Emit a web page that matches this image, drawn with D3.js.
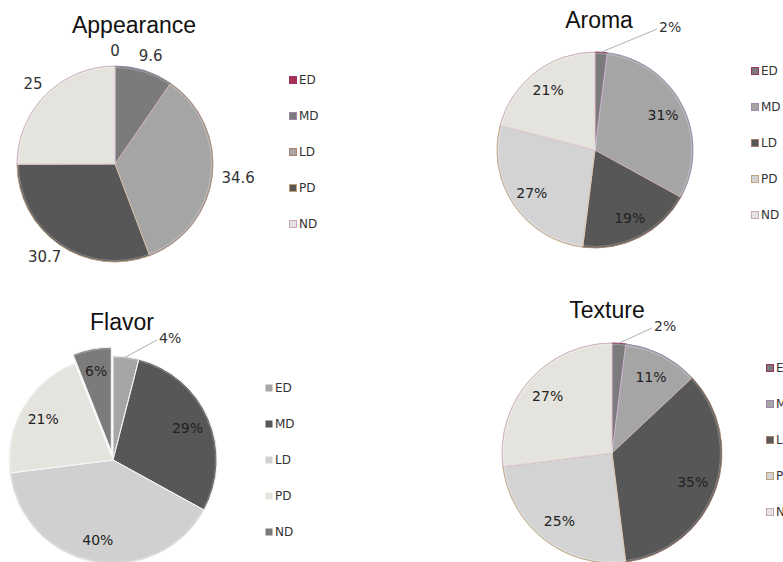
<!DOCTYPE html>
<html>
<head>
<meta charset="utf-8">
<script src="https://cdn.jsdelivr.net/npm/d3@7"></script>
<style>
  body { margin: 0; background: #fff; overflow: hidden; }
  svg { display: block; }
</style>
</head>
<body>
<svg id="chart" width="783" height="562"></svg>
<script>
// Sensory attribute categories (shared by all four pies)
const categories = ["ED", "MD", "LD", "PD", "ND"];

// Series values per attribute
const appearanceValues = [0, 9.6, 34.6, 30.7, 25];
const aromaValues = [2, 31, 19, 27, 21];
const flavorValues = [4, 29, 40, 21, 6];
const textureValues = [2, 11, 35, 25, 27];

const chartTitles = ["Appearance", "Aroma", "Flavor", "Texture"];

// Slice fills per chart, in category order
const appearanceColors = ["#a8304f", "#7b7b7b", "#a5a5a5", "#575757", "#e5e3dd"];
const aromaColors = ["#7b7b7b", "#a5a5a5", "#575757", "#d3d3d3", "#e5e3dd"];
const flavorColors = ["#a5a5a5", "#575757", "#d0d0d0", "#e5e3dd", "#7b7b7b"];
const textureColors = ["#7b7b7b", "#a5a5a5", "#575757", "#d3d3d3", "#e5e3dd"];

// Slice outline colours
const outlineColors = ["#993366", "#9d87ab", "#a98070", "#bfa27a", "#c7a9b8"];

const svg = d3.select("#chart");

const charts = [
  { title: chartTitles[0], values: appearanceValues, colors: appearanceColors, outlines: outlineColors,
    cx: 115, cy: 164, r: 98, tx: 134, ty: 33, lx: 289, ly: 80, labels: "outside" },
  { title: chartTitles[1], values: aromaValues, colors: aromaColors, outlines: outlineColors,
    cx: 595, cy: 150, r: 98, tx: 599, ty: 28, lx: 751, ly: 71, labels: "percent", callout: [62, -121] },
  { title: chartTitles[2], values: flavorValues, colors: flavorColors, outlines: null,
    cx: 113, cy: 460, r: 104, tx: 122, ty: 330, lx: 265, ly: 388, labels: "percent", callout: [44, -120],
    explode: 4, explodeBy: 9 },
  { title: chartTitles[3], values: textureValues, colors: textureColors, outlines: outlineColors,
    cx: 612, cy: 453, r: 110, tx: 607, ty: 318, lx: 766, ly: 368, labels: "percent", callout: [40, -125] }
];

const pie = d3.pie().sort(null).value(d => d);
const legendStep = 36;

charts.forEach(c => {
  const total = d3.sum(c.values);
  const arcs = pie(c.values);
  const arc = d3.arc().innerRadius(0).outerRadius(c.r);
  const g = svg.append("g").attr("transform", `translate(${c.cx},${c.cy})`);

  const mid = d => (d.startAngle + d.endAngle) / 2;
  const offset = (d, i) => {
    if (c.explode === i) {
      const a = mid(d);
      return `translate(${Math.sin(a) * c.explodeBy},${-Math.cos(a) * c.explodeBy})`;
    }
    return null;
  };

  // Slices
  g.selectAll("path.slice")
    .data(arcs)
    .join("path")
    .attr("class", "slice")
    .attr("d", arc)
    .attr("transform", offset)
    .attr("fill", (d, i) => c.colors[i])
    .attr("stroke", (d, i) => c.outlines ? c.outlines[i] : "#f2f2f2")
    .attr("stroke-width", c.outlines ? 0.9 : 1)
    .attr("stroke-linejoin", "round");

  // Soft bevel highlight along slice edges
  g.selectAll("path.bevel")
    .data(arcs.filter(d => d.value > 0))
    .join("path")
    .attr("class", "bevel")
    .attr("d", d3.arc().innerRadius(0).outerRadius(c.r - 1.5))
    .attr("transform", (d) => offset(d, arcs.indexOf(d)))
    .attr("fill", "none")
    .attr("stroke", "#ffffff")
    .attr("stroke-opacity", 0.25)
    .attr("stroke-width", 1);

  // Data labels
  arcs.forEach((d, i) => {
    const a = mid(d);
    const s = Math.sin(a), co = -Math.cos(a);
    if (c.labels === "outside") {
      const txt = String(d.value);
      const w = txt.length * 8, h = 11;
      const rr = c.r + 10;
      g.append("text")
        .attr("x", s * rr + s * w / 2)
        .attr("y", co * rr + co * h / 2)
        .attr("text-anchor", "middle")
        .attr("dominant-baseline", "central")
        .attr("font-family", "DejaVu Sans, Verdana, sans-serif")
        .attr("font-size", 15)
        .attr("fill", "#333")
        .text(txt);
    } else {
      const pct = Math.round(d.value / total * 100) + "%";
      if (d.value / total < 0.05) {
        const sx = s * c.r, sy = co * c.r;
        const [ex, ey] = c.callout;
        g.append("line")
          .attr("x1", sx).attr("y1", sy)
          .attr("x2", ex).attr("y2", ey)
          .attr("stroke", "#9a9a9a").attr("stroke-width", 0.8);
        g.append("text")
          .attr("x", ex + 2).attr("y", ey - 2)
          .attr("dominant-baseline", "central")
          .attr("font-family", "DejaVu Sans, Verdana, sans-serif")
          .attr("font-size", 14)
          .attr("fill", "#333")
          .text(pct);
      } else {
        let rr = c.r * 0.78;
        if (c.explode === i) rr += c.explodeBy;
        g.append("text")
          .attr("x", s * rr)
          .attr("y", co * rr)
          .attr("text-anchor", "middle")
          .attr("dominant-baseline", "central")
          .attr("font-family", "DejaVu Sans, Verdana, sans-serif")
          .attr("font-size", 14)
          .attr("fill", "#222")
          .text(pct);
      }
    }
  });

  // Title
  svg.append("text")
    .attr("x", c.tx).attr("y", c.ty)
    .attr("text-anchor", "middle")
    .attr("font-family", "Liberation Sans, Arial, sans-serif")
    .attr("font-size", 23)
    .attr("fill", "#111")
    .text(c.title);

  // Legend
  const lg = svg.append("g").attr("transform", `translate(${c.lx},${c.ly})`);
  categories.forEach((cat, i) => {
    const row = lg.append("g").attr("transform", `translate(0,${i * legendStep})`);
    row.append("rect")
      .attr("x", 0.5).attr("y", -3.5)
      .attr("width", 7).attr("height", 7)
      .attr("fill", c.colors[i])
      .attr("stroke", c.outlines ? c.outlines[i] : "none")
      .attr("stroke-width", 1);
    row.append("text")
      .attr("x", 10).attr("y", 0)
      .attr("dominant-baseline", "central")
      .attr("font-family", "DejaVu Sans, Verdana, sans-serif")
      .attr("font-size", 12)
      .attr("fill", "#333")
      .text(cat);
  });
});
</script>
</body>
</html>
